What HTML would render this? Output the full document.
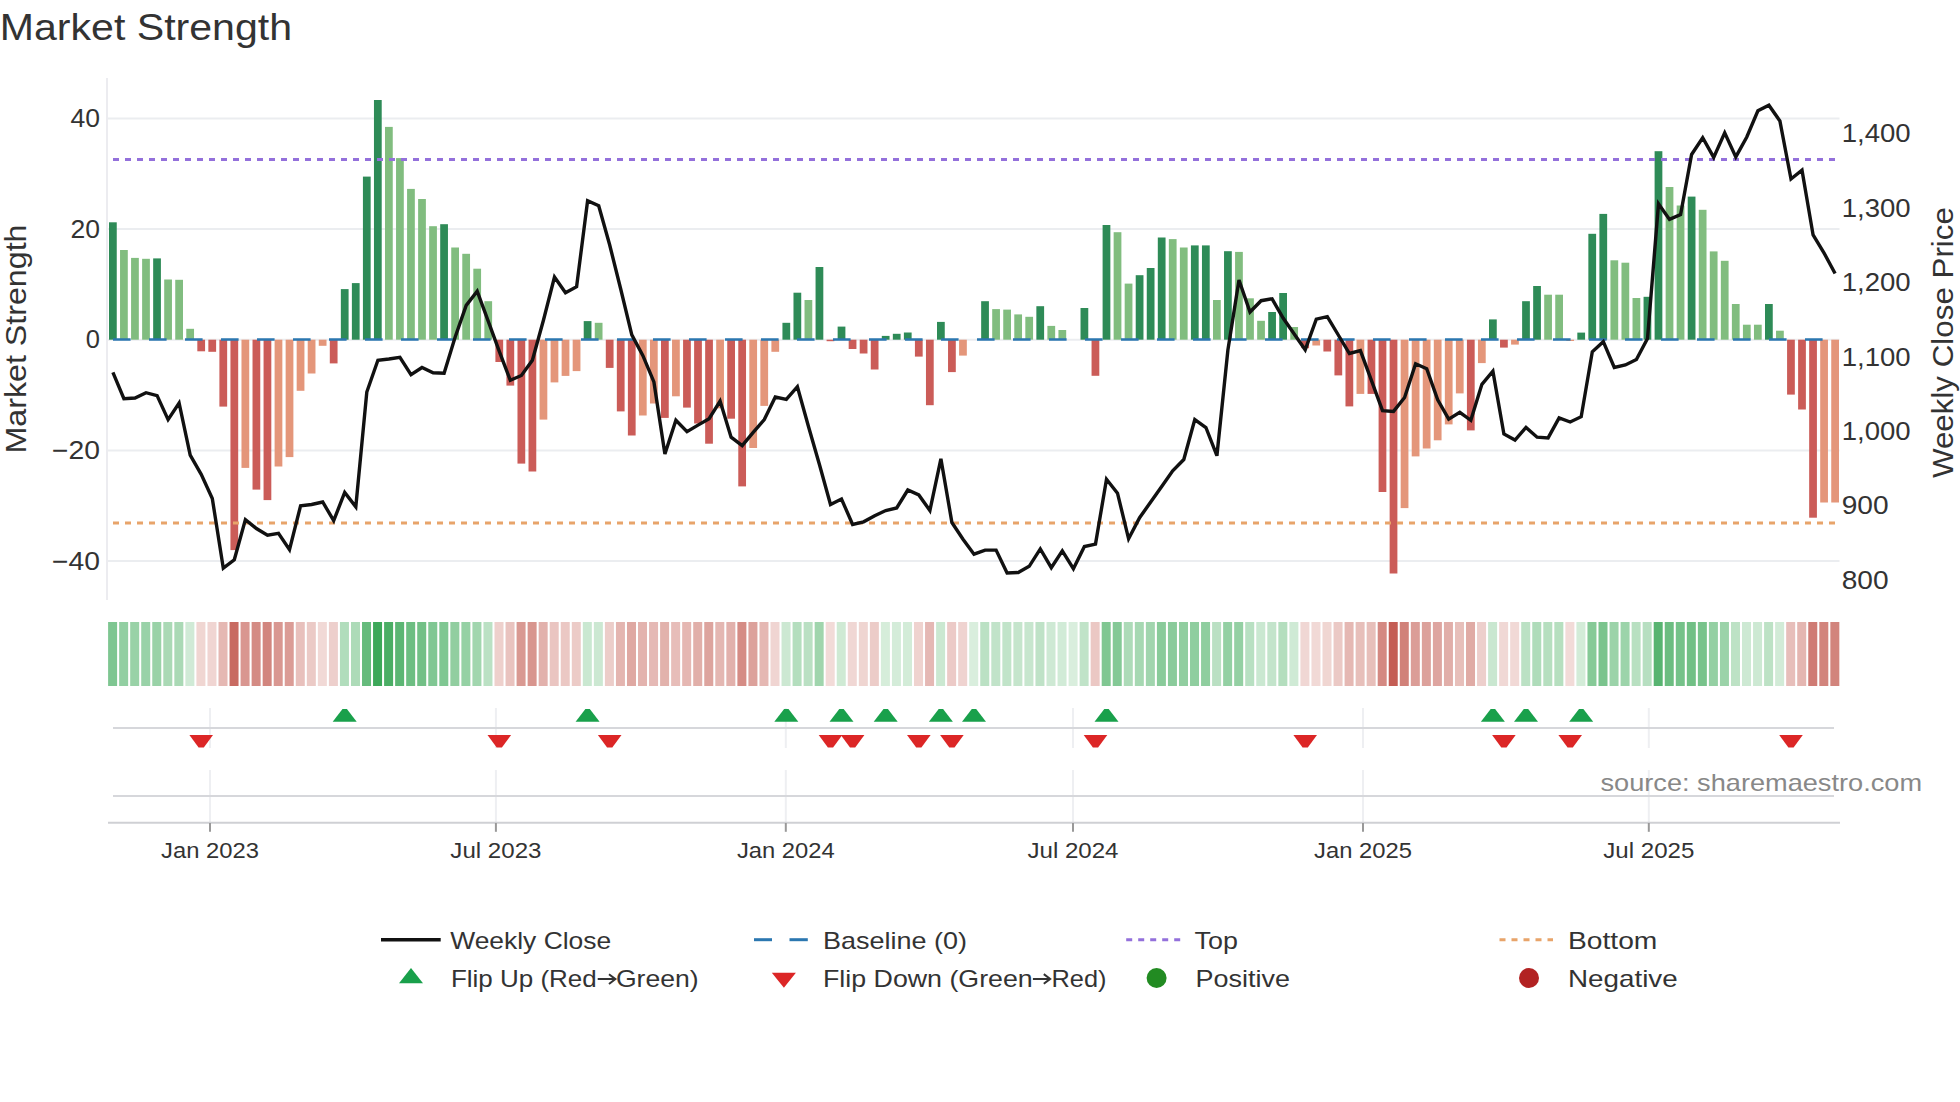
<!DOCTYPE html>
<html><head><meta charset="utf-8"><title>Market Strength</title>
<style>html,body{margin:0;padding:0;background:#fff;width:1960px;height:1102px;overflow:hidden}</style>
</head><body>
<svg width="1960" height="1102" viewBox="0 0 1960 1102" style="display:block">
<rect width="1960" height="1102" fill="#fff"/>
<g font-family='"Liberation Sans", sans-serif'>
<text x="-0.3" y="40.1" font-size="36" fill="#333" text-anchor="start" textLength="292.4" lengthAdjust="spacingAndGlyphs">Market Strength</text>
<line x1="108" y1="118.4" x2="1839.5" y2="118.4" stroke="#ebedf0" stroke-width="2"/>
<line x1="108" y1="229.0" x2="1839.5" y2="229.0" stroke="#ebedf0" stroke-width="2"/>
<line x1="108" y1="450.4" x2="1839.5" y2="450.4" stroke="#ebedf0" stroke-width="2"/>
<line x1="108" y1="561.0" x2="1839.5" y2="561.0" stroke="#ebedf0" stroke-width="2"/>
<line x1="108" y1="339.7" x2="1839.5" y2="339.7" stroke="#ebedf0" stroke-width="2"/>
<line x1="107" y1="78" x2="107" y2="600" stroke="#ececf0" stroke-width="2"/>
<text x="100" y="127.0" font-size="25.5" fill="#333" text-anchor="end" textLength="29.5" lengthAdjust="spacingAndGlyphs">40</text>
<text x="100" y="237.6" font-size="25.5" fill="#333" text-anchor="end" textLength="29.5" lengthAdjust="spacingAndGlyphs">20</text>
<text x="100" y="348.3" font-size="25.5" fill="#333" text-anchor="end">0</text>
<text x="100" y="459.0" font-size="25.5" fill="#333" text-anchor="end" textLength="48" lengthAdjust="spacingAndGlyphs">−20</text>
<text x="100" y="569.6" font-size="25.5" fill="#333" text-anchor="end" textLength="48" lengthAdjust="spacingAndGlyphs">−40</text>
<text x="1841.7" y="142.0" font-size="25" fill="#333" text-anchor="start" textLength="69.0" lengthAdjust="spacingAndGlyphs">1,400</text>
<text x="1841.7" y="216.5" font-size="25" fill="#333" text-anchor="start" textLength="69.0" lengthAdjust="spacingAndGlyphs">1,300</text>
<text x="1841.7" y="291.0" font-size="25" fill="#333" text-anchor="start" textLength="69.0" lengthAdjust="spacingAndGlyphs">1,200</text>
<text x="1841.7" y="365.5" font-size="25" fill="#333" text-anchor="start" textLength="69.0" lengthAdjust="spacingAndGlyphs">1,100</text>
<text x="1841.7" y="439.9" font-size="25" fill="#333" text-anchor="start" textLength="69.0" lengthAdjust="spacingAndGlyphs">1,000</text>
<text x="1841.7" y="514.4" font-size="25" fill="#333" text-anchor="start" textLength="46.9" lengthAdjust="spacingAndGlyphs">900</text>
<text x="1841.7" y="588.9" font-size="25" fill="#333" text-anchor="start" textLength="46.9" lengthAdjust="spacingAndGlyphs">800</text>
<text transform="translate(26,339) rotate(-90)" font-size="29.5" fill="#333" text-anchor="middle" textLength="229" lengthAdjust="spacingAndGlyphs">Market Strength</text>
<text transform="translate(1953.4,342.6) rotate(-90)" font-size="29.5" fill="#333" text-anchor="middle" textLength="271" lengthAdjust="spacingAndGlyphs">Weekly Close Price</text>
<rect x="109.00" y="222.30" width="7.75" height="117.40" fill="#2e8b57"/>
<rect x="120.04" y="250.00" width="7.75" height="89.70" fill="#81bd7f"/>
<rect x="131.08" y="257.90" width="7.75" height="81.80" fill="#81bd7f"/>
<rect x="142.12" y="258.80" width="7.75" height="80.90" fill="#81bd7f"/>
<rect x="153.16" y="258.40" width="7.75" height="81.30" fill="#2e8b57"/>
<rect x="164.20" y="279.50" width="7.75" height="60.20" fill="#81bd7f"/>
<rect x="175.24" y="279.80" width="7.75" height="59.90" fill="#81bd7f"/>
<rect x="186.28" y="328.80" width="7.75" height="10.90" fill="#81bd7f"/>
<rect x="197.32" y="339.70" width="7.75" height="11.60" fill="#cb5c58"/>
<rect x="208.36" y="339.70" width="7.75" height="12.10" fill="#cb5c58"/>
<rect x="219.40" y="339.70" width="7.75" height="66.90" fill="#cb5c58"/>
<rect x="230.44" y="339.70" width="7.75" height="210.40" fill="#cb5c58"/>
<rect x="241.48" y="339.70" width="7.75" height="128.20" fill="#e4967a"/>
<rect x="252.52" y="339.70" width="7.75" height="149.90" fill="#cb5c58"/>
<rect x="263.56" y="339.70" width="7.75" height="160.40" fill="#cb5c58"/>
<rect x="274.60" y="339.70" width="7.75" height="126.80" fill="#e4967a"/>
<rect x="285.64" y="339.70" width="7.75" height="117.40" fill="#e4967a"/>
<rect x="296.68" y="339.70" width="7.75" height="51.10" fill="#e4967a"/>
<rect x="307.72" y="339.70" width="7.75" height="33.80" fill="#e4967a"/>
<rect x="318.76" y="339.70" width="7.75" height="6.10" fill="#e4967a"/>
<rect x="329.80" y="339.70" width="7.75" height="23.70" fill="#cb5c58"/>
<rect x="340.84" y="289.10" width="7.75" height="50.60" fill="#2e8b57"/>
<rect x="351.88" y="283.10" width="7.75" height="56.60" fill="#2e8b57"/>
<rect x="362.92" y="176.60" width="7.75" height="163.10" fill="#2e8b57"/>
<rect x="373.96" y="100.00" width="7.75" height="239.70" fill="#2e8b57"/>
<rect x="385.00" y="126.90" width="7.75" height="212.80" fill="#81bd7f"/>
<rect x="396.04" y="158.10" width="7.75" height="181.60" fill="#81bd7f"/>
<rect x="407.08" y="188.90" width="7.75" height="150.80" fill="#81bd7f"/>
<rect x="418.12" y="199.00" width="7.75" height="140.70" fill="#81bd7f"/>
<rect x="429.16" y="226.20" width="7.75" height="113.50" fill="#81bd7f"/>
<rect x="440.20" y="224.20" width="7.75" height="115.50" fill="#2e8b57"/>
<rect x="451.24" y="247.50" width="7.75" height="92.20" fill="#81bd7f"/>
<rect x="462.28" y="253.80" width="7.75" height="85.90" fill="#81bd7f"/>
<rect x="473.32" y="268.70" width="7.75" height="71.00" fill="#81bd7f"/>
<rect x="484.36" y="301.20" width="7.75" height="38.50" fill="#81bd7f"/>
<rect x="495.40" y="339.70" width="7.75" height="22.30" fill="#cb5c58"/>
<rect x="506.44" y="339.70" width="7.75" height="45.90" fill="#cb5c58"/>
<rect x="517.48" y="339.70" width="7.75" height="123.90" fill="#cb5c58"/>
<rect x="528.52" y="339.70" width="7.75" height="131.80" fill="#cb5c58"/>
<rect x="539.56" y="339.70" width="7.75" height="79.90" fill="#e4967a"/>
<rect x="550.60" y="339.70" width="7.75" height="42.70" fill="#e4967a"/>
<rect x="561.64" y="339.70" width="7.75" height="36.20" fill="#e4967a"/>
<rect x="572.68" y="339.70" width="7.75" height="31.40" fill="#e4967a"/>
<rect x="583.72" y="321.10" width="7.75" height="18.60" fill="#2e8b57"/>
<rect x="594.76" y="322.80" width="7.75" height="16.90" fill="#81bd7f"/>
<rect x="605.80" y="339.70" width="7.75" height="28.20" fill="#cb5c58"/>
<rect x="616.84" y="339.70" width="7.75" height="71.70" fill="#cb5c58"/>
<rect x="627.88" y="339.70" width="7.75" height="95.80" fill="#cb5c58"/>
<rect x="638.92" y="339.70" width="7.75" height="75.80" fill="#e4967a"/>
<rect x="649.96" y="339.70" width="7.75" height="63.80" fill="#e4967a"/>
<rect x="661.00" y="339.70" width="7.75" height="78.20" fill="#cb5c58"/>
<rect x="672.04" y="339.70" width="7.75" height="56.60" fill="#e4967a"/>
<rect x="683.08" y="339.70" width="7.75" height="67.90" fill="#cb5c58"/>
<rect x="694.12" y="339.70" width="7.75" height="83.80" fill="#cb5c58"/>
<rect x="705.16" y="339.70" width="7.75" height="104.00" fill="#cb5c58"/>
<rect x="716.20" y="339.70" width="7.75" height="68.60" fill="#e4967a"/>
<rect x="727.24" y="339.70" width="7.75" height="79.00" fill="#cb5c58"/>
<rect x="738.28" y="339.70" width="7.75" height="146.70" fill="#cb5c58"/>
<rect x="749.32" y="339.70" width="7.75" height="108.30" fill="#e4967a"/>
<rect x="760.36" y="339.70" width="7.75" height="66.20" fill="#e4967a"/>
<rect x="771.40" y="339.70" width="7.75" height="12.10" fill="#e4967a"/>
<rect x="782.44" y="322.80" width="7.75" height="16.90" fill="#2e8b57"/>
<rect x="793.48" y="292.70" width="7.75" height="47.00" fill="#2e8b57"/>
<rect x="804.52" y="300.00" width="7.75" height="39.70" fill="#81bd7f"/>
<rect x="815.56" y="267.00" width="7.75" height="72.70" fill="#2e8b57"/>
<rect x="826.60" y="339.70" width="7.75" height="1.50" fill="#cb5c58"/>
<rect x="837.64" y="326.60" width="7.75" height="13.10" fill="#2e8b57"/>
<rect x="848.68" y="339.70" width="7.75" height="9.30" fill="#cb5c58"/>
<rect x="859.72" y="339.70" width="7.75" height="13.80" fill="#cb5c58"/>
<rect x="870.76" y="339.70" width="7.75" height="29.80" fill="#cb5c58"/>
<rect x="881.80" y="335.90" width="7.75" height="3.80" fill="#2e8b57"/>
<rect x="892.84" y="333.80" width="7.75" height="5.90" fill="#2e8b57"/>
<rect x="903.88" y="332.50" width="7.75" height="7.20" fill="#2e8b57"/>
<rect x="914.92" y="339.70" width="7.75" height="16.90" fill="#cb5c58"/>
<rect x="925.96" y="339.70" width="7.75" height="65.50" fill="#cb5c58"/>
<rect x="937.00" y="321.90" width="7.75" height="17.80" fill="#2e8b57"/>
<rect x="948.04" y="339.70" width="7.75" height="32.40" fill="#cb5c58"/>
<rect x="959.08" y="339.70" width="7.75" height="15.90" fill="#e4967a"/>
<rect x="981.16" y="301.20" width="7.75" height="38.50" fill="#2e8b57"/>
<rect x="992.20" y="309.10" width="7.75" height="30.60" fill="#81bd7f"/>
<rect x="1003.24" y="309.60" width="7.75" height="30.10" fill="#81bd7f"/>
<rect x="1014.28" y="314.40" width="7.75" height="25.30" fill="#81bd7f"/>
<rect x="1025.32" y="316.80" width="7.75" height="22.90" fill="#81bd7f"/>
<rect x="1036.36" y="306.20" width="7.75" height="33.50" fill="#2e8b57"/>
<rect x="1047.40" y="325.90" width="7.75" height="13.80" fill="#81bd7f"/>
<rect x="1058.44" y="330.00" width="7.75" height="9.70" fill="#81bd7f"/>
<rect x="1080.52" y="308.00" width="7.75" height="31.70" fill="#2e8b57"/>
<rect x="1091.56" y="339.70" width="7.75" height="36.10" fill="#cb5c58"/>
<rect x="1102.60" y="225.00" width="7.75" height="114.70" fill="#2e8b57"/>
<rect x="1113.64" y="232.20" width="7.75" height="107.50" fill="#81bd7f"/>
<rect x="1124.68" y="283.60" width="7.75" height="56.10" fill="#81bd7f"/>
<rect x="1135.72" y="275.20" width="7.75" height="64.50" fill="#2e8b57"/>
<rect x="1146.76" y="268.00" width="7.75" height="71.70" fill="#2e8b57"/>
<rect x="1157.80" y="237.50" width="7.75" height="102.20" fill="#2e8b57"/>
<rect x="1168.84" y="239.10" width="7.75" height="100.60" fill="#81bd7f"/>
<rect x="1179.88" y="247.50" width="7.75" height="92.20" fill="#81bd7f"/>
<rect x="1190.92" y="245.40" width="7.75" height="94.30" fill="#2e8b57"/>
<rect x="1201.96" y="245.40" width="7.75" height="94.30" fill="#2e8b57"/>
<rect x="1213.00" y="300.00" width="7.75" height="39.70" fill="#81bd7f"/>
<rect x="1224.04" y="251.20" width="7.75" height="88.50" fill="#2e8b57"/>
<rect x="1235.08" y="251.90" width="7.75" height="87.80" fill="#81bd7f"/>
<rect x="1246.12" y="298.30" width="7.75" height="41.40" fill="#81bd7f"/>
<rect x="1257.16" y="320.80" width="7.75" height="18.90" fill="#81bd7f"/>
<rect x="1268.20" y="312.00" width="7.75" height="27.70" fill="#2e8b57"/>
<rect x="1279.24" y="293.00" width="7.75" height="46.70" fill="#2e8b57"/>
<rect x="1290.28" y="327.00" width="7.75" height="12.70" fill="#81bd7f"/>
<rect x="1301.32" y="339.70" width="7.75" height="8.50" fill="#cb5c58"/>
<rect x="1312.36" y="339.70" width="7.75" height="5.80" fill="#e4967a"/>
<rect x="1323.40" y="339.70" width="7.75" height="11.80" fill="#cb5c58"/>
<rect x="1334.44" y="339.70" width="7.75" height="35.70" fill="#cb5c58"/>
<rect x="1345.48" y="339.70" width="7.75" height="66.70" fill="#cb5c58"/>
<rect x="1356.52" y="339.70" width="7.75" height="54.20" fill="#e4967a"/>
<rect x="1367.56" y="339.70" width="7.75" height="54.20" fill="#cb5c58"/>
<rect x="1378.60" y="339.70" width="7.75" height="152.30" fill="#cb5c58"/>
<rect x="1389.64" y="339.70" width="7.75" height="233.80" fill="#cb5c58"/>
<rect x="1400.68" y="339.70" width="7.75" height="168.40" fill="#e4967a"/>
<rect x="1411.72" y="339.70" width="7.75" height="116.70" fill="#e4967a"/>
<rect x="1422.76" y="339.70" width="7.75" height="108.80" fill="#e4967a"/>
<rect x="1433.80" y="339.70" width="7.75" height="100.60" fill="#e4967a"/>
<rect x="1444.84" y="339.70" width="7.75" height="84.70" fill="#e4967a"/>
<rect x="1455.88" y="339.70" width="7.75" height="53.70" fill="#e4967a"/>
<rect x="1466.92" y="339.70" width="7.75" height="90.70" fill="#cb5c58"/>
<rect x="1477.96" y="339.70" width="7.75" height="23.40" fill="#e4967a"/>
<rect x="1489.00" y="319.40" width="7.75" height="20.30" fill="#2e8b57"/>
<rect x="1500.04" y="339.70" width="7.75" height="7.90" fill="#cb5c58"/>
<rect x="1511.08" y="339.70" width="7.75" height="4.90" fill="#e4967a"/>
<rect x="1522.12" y="301.20" width="7.75" height="38.50" fill="#2e8b57"/>
<rect x="1533.16" y="286.00" width="7.75" height="53.70" fill="#2e8b57"/>
<rect x="1544.20" y="294.70" width="7.75" height="45.00" fill="#81bd7f"/>
<rect x="1555.24" y="294.70" width="7.75" height="45.00" fill="#81bd7f"/>
<rect x="1566.28" y="339.70" width="7.75" height="1.30" fill="#e4967a"/>
<rect x="1577.32" y="332.60" width="7.75" height="7.10" fill="#2e8b57"/>
<rect x="1588.36" y="233.80" width="7.75" height="105.90" fill="#2e8b57"/>
<rect x="1599.40" y="213.90" width="7.75" height="125.80" fill="#2e8b57"/>
<rect x="1610.44" y="260.30" width="7.75" height="79.40" fill="#81bd7f"/>
<rect x="1621.48" y="262.70" width="7.75" height="77.00" fill="#81bd7f"/>
<rect x="1632.52" y="298.00" width="7.75" height="41.70" fill="#81bd7f"/>
<rect x="1643.56" y="296.80" width="7.75" height="42.90" fill="#2e8b57"/>
<rect x="1654.60" y="151.20" width="7.75" height="188.50" fill="#2e8b57"/>
<rect x="1665.64" y="187.00" width="7.75" height="152.70" fill="#81bd7f"/>
<rect x="1676.68" y="205.50" width="7.75" height="134.20" fill="#81bd7f"/>
<rect x="1687.72" y="196.60" width="7.75" height="143.10" fill="#2e8b57"/>
<rect x="1698.76" y="209.80" width="7.75" height="129.90" fill="#81bd7f"/>
<rect x="1709.80" y="251.40" width="7.75" height="88.30" fill="#81bd7f"/>
<rect x="1720.84" y="260.80" width="7.75" height="78.90" fill="#81bd7f"/>
<rect x="1731.88" y="304.00" width="7.75" height="35.70" fill="#81bd7f"/>
<rect x="1742.92" y="324.70" width="7.75" height="15.00" fill="#81bd7f"/>
<rect x="1753.96" y="324.70" width="7.75" height="15.00" fill="#81bd7f"/>
<rect x="1765.00" y="304.00" width="7.75" height="35.70" fill="#2e8b57"/>
<rect x="1776.04" y="330.70" width="7.75" height="9.00" fill="#81bd7f"/>
<rect x="1787.08" y="339.70" width="7.75" height="54.90" fill="#cb5c58"/>
<rect x="1798.12" y="339.70" width="7.75" height="69.80" fill="#cb5c58"/>
<rect x="1809.16" y="339.70" width="7.75" height="178.00" fill="#cb5c58"/>
<rect x="1820.20" y="339.70" width="7.75" height="162.80" fill="#e4967a"/>
<rect x="1831.24" y="339.70" width="7.75" height="162.80" fill="#e4967a"/>
<line x1="113" y1="339.5" x2="1823" y2="339.5" stroke="#2b77b0" stroke-width="2.6" stroke-dasharray="17.6 18.4"/>
<line x1="113" y1="159.6" x2="1835" y2="159.6" stroke="#9370db" stroke-width="3" stroke-dasharray="6 6"/>
<line x1="113" y1="523" x2="1835" y2="523" stroke="#e8a46a" stroke-width="3" stroke-dasharray="6 6"/>
<polyline points="112.9,372.3 123.9,398.7 135.0,398.0 146.0,392.7 157.1,395.6 168.1,419.6 179.1,403.0 190.2,455.2 201.2,474.4 212.3,498.5 223.3,568.2 234.3,559.8 245.4,519.6 256.4,528.5 267.5,535.2 278.5,533.3 289.5,549.7 300.6,505.7 311.6,504.5 322.7,502.0 333.7,520.6 344.7,492.5 355.8,506.9 366.8,392.0 377.9,360.2 388.9,359.0 399.9,357.4 411.0,374.7 422.0,367.5 433.1,372.7 444.1,373.2 455.1,337.2 466.2,305.4 477.2,291.2 488.3,321.3 499.3,351.4 510.3,380.3 521.4,375.5 532.4,360.2 543.5,320.0 554.5,277.1 565.5,292.7 576.6,286.7 587.6,200.7 598.7,205.7 609.7,245.0 620.7,289.0 631.8,334.8 642.8,355.4 653.9,381.9 664.9,454.0 675.9,420.3 687.0,431.6 698.0,425.1 709.1,418.7 720.1,401.1 731.1,437.2 742.2,445.6 753.2,432.4 764.3,419.6 775.3,397.0 786.3,399.4 797.4,386.7 808.4,426.3 819.5,464.8 830.5,504.5 841.5,499.0 852.6,524.4 863.6,521.8 874.7,515.8 885.7,510.5 896.7,508.0 907.8,490.0 918.8,494.9 929.9,510.5 940.9,458.8 951.9,522.5 963.0,539.3 974.0,554.2 985.1,550.1 996.1,550.1 1007.1,573.0 1018.2,572.5 1029.2,566.3 1040.3,548.9 1051.3,567.7 1062.3,550.9 1073.4,568.7 1084.4,546.5 1095.5,544.1 1106.5,479.2 1117.5,493.2 1128.6,538.8 1139.6,517.7 1150.7,502.0 1161.7,486.4 1172.7,470.8 1183.8,459.5 1194.8,419.6 1205.9,427.5 1216.9,455.7 1227.9,350.0 1239.0,280.0 1250.0,312.0 1261.1,300.7 1272.1,298.8 1283.1,318.0 1294.2,334.0 1305.2,349.8 1316.3,319.1 1327.3,316.6 1338.3,335.0 1349.4,353.5 1360.4,350.6 1371.5,380.7 1382.5,410.7 1393.5,411.4 1404.6,397.5 1415.6,363.8 1426.7,368.7 1437.7,399.9 1448.7,419.1 1459.8,412.4 1470.8,420.3 1481.9,384.3 1492.9,371.1 1503.9,434.0 1515.0,440.0 1526.0,427.5 1537.1,437.2 1548.1,437.9 1559.1,417.9 1570.2,422.0 1581.2,416.7 1592.3,351.8 1603.3,341.7 1614.3,367.5 1625.4,365.0 1636.4,359.5 1647.5,338.6 1658.5,203.8 1669.5,219.4 1680.6,214.6 1691.6,154.5 1702.7,137.7 1713.7,157.4 1724.7,132.9 1735.8,156.9 1746.8,137.0 1757.9,110.8 1768.9,105.2 1779.9,120.9 1791.0,179.0 1802.0,170.1 1813.1,235.0 1824.1,253.1 1835.1,273.5" fill="none" stroke="#111" stroke-width="3.4" stroke-linejoin="miter" stroke-miterlimit="4"/>
<rect x="108.10" y="622" width="9" height="64" fill="#7ec691"/>
<rect x="119.14" y="622" width="9" height="64" fill="#92cfa2"/>
<rect x="130.18" y="622" width="9" height="64" fill="#99d2a7"/>
<rect x="141.22" y="622" width="9" height="64" fill="#99d2a8"/>
<rect x="152.26" y="622" width="9" height="64" fill="#99d2a7"/>
<rect x="163.30" y="622" width="9" height="64" fill="#aad9b5"/>
<rect x="174.34" y="622" width="9" height="64" fill="#aad9b5"/>
<rect x="185.38" y="622" width="9" height="64" fill="#d0ead6"/>
<rect x="196.42" y="622" width="9" height="64" fill="#f0d6d2"/>
<rect x="207.46" y="622" width="9" height="64" fill="#f0d5d2"/>
<rect x="218.50" y="622" width="9" height="64" fill="#e5b8b3"/>
<rect x="229.54" y="622" width="9" height="64" fill="#c86a61"/>
<rect x="240.58" y="622" width="9" height="64" fill="#d99690"/>
<rect x="251.62" y="622" width="9" height="64" fill="#d48b84"/>
<rect x="262.66" y="622" width="9" height="64" fill="#d2857e"/>
<rect x="273.70" y="622" width="9" height="64" fill="#d99791"/>
<rect x="284.74" y="622" width="9" height="64" fill="#db9c96"/>
<rect x="295.78" y="622" width="9" height="64" fill="#e8c0bc"/>
<rect x="306.82" y="622" width="9" height="64" fill="#ebcac6"/>
<rect x="317.86" y="622" width="9" height="64" fill="#f1d9d6"/>
<rect x="328.90" y="622" width="9" height="64" fill="#edcfcc"/>
<rect x="339.94" y="622" width="9" height="64" fill="#b1ddbc"/>
<rect x="350.98" y="622" width="9" height="64" fill="#addbb8"/>
<rect x="362.02" y="622" width="9" height="64" fill="#66bb7c"/>
<rect x="373.06" y="622" width="9" height="64" fill="#3da859"/>
<rect x="384.10" y="622" width="9" height="64" fill="#4bae65"/>
<rect x="395.14" y="622" width="9" height="64" fill="#5cb674"/>
<rect x="406.18" y="622" width="9" height="64" fill="#6dbe82"/>
<rect x="417.22" y="622" width="9" height="64" fill="#72c086"/>
<rect x="428.26" y="622" width="9" height="64" fill="#80c793"/>
<rect x="439.30" y="622" width="9" height="64" fill="#7fc792"/>
<rect x="450.34" y="622" width="9" height="64" fill="#91cea0"/>
<rect x="461.38" y="622" width="9" height="64" fill="#95d1a4"/>
<rect x="472.42" y="622" width="9" height="64" fill="#a1d6ae"/>
<rect x="483.46" y="622" width="9" height="64" fill="#bbe1c4"/>
<rect x="494.50" y="622" width="9" height="64" fill="#eed0cc"/>
<rect x="505.54" y="622" width="9" height="64" fill="#e9c3bf"/>
<rect x="516.58" y="622" width="9" height="64" fill="#d99992"/>
<rect x="527.62" y="622" width="9" height="64" fill="#d8958e"/>
<rect x="538.66" y="622" width="9" height="64" fill="#e2b1ac"/>
<rect x="549.70" y="622" width="9" height="64" fill="#eac5c1"/>
<rect x="560.74" y="622" width="9" height="64" fill="#ebc8c4"/>
<rect x="571.78" y="622" width="9" height="64" fill="#eccbc7"/>
<rect x="582.82" y="622" width="9" height="64" fill="#cae8d1"/>
<rect x="593.86" y="622" width="9" height="64" fill="#cce8d2"/>
<rect x="604.90" y="622" width="9" height="64" fill="#eccdc9"/>
<rect x="615.94" y="622" width="9" height="64" fill="#e4b5b0"/>
<rect x="626.98" y="622" width="9" height="64" fill="#dfa8a2"/>
<rect x="638.02" y="622" width="9" height="64" fill="#e3b3ae"/>
<rect x="649.06" y="622" width="9" height="64" fill="#e5b9b5"/>
<rect x="660.10" y="622" width="9" height="64" fill="#e2b2ac"/>
<rect x="671.14" y="622" width="9" height="64" fill="#e7bdb9"/>
<rect x="682.18" y="622" width="9" height="64" fill="#e5b7b2"/>
<rect x="693.22" y="622" width="9" height="64" fill="#e1afa9"/>
<rect x="704.26" y="622" width="9" height="64" fill="#dda49e"/>
<rect x="715.30" y="622" width="9" height="64" fill="#e4b7b2"/>
<rect x="726.34" y="622" width="9" height="64" fill="#e2b1ac"/>
<rect x="737.38" y="622" width="9" height="64" fill="#d58c85"/>
<rect x="748.42" y="622" width="9" height="64" fill="#dca19b"/>
<rect x="759.46" y="622" width="9" height="64" fill="#e5b8b3"/>
<rect x="770.50" y="622" width="9" height="64" fill="#f0d5d2"/>
<rect x="781.54" y="622" width="9" height="64" fill="#cce8d2"/>
<rect x="792.58" y="622" width="9" height="64" fill="#b4debe"/>
<rect x="803.62" y="622" width="9" height="64" fill="#bae0c3"/>
<rect x="814.66" y="622" width="9" height="64" fill="#a0d5ad"/>
<rect x="825.70" y="622" width="9" height="64" fill="#f2dbd8"/>
<rect x="836.74" y="622" width="9" height="64" fill="#cfead4"/>
<rect x="847.78" y="622" width="9" height="64" fill="#f0d7d4"/>
<rect x="858.82" y="622" width="9" height="64" fill="#efd5d1"/>
<rect x="869.86" y="622" width="9" height="64" fill="#ecccc8"/>
<rect x="880.90" y="622" width="9" height="64" fill="#d6edda"/>
<rect x="891.94" y="622" width="9" height="64" fill="#d4ecd9"/>
<rect x="902.98" y="622" width="9" height="64" fill="#d3ecd8"/>
<rect x="914.02" y="622" width="9" height="64" fill="#efd3cf"/>
<rect x="925.06" y="622" width="9" height="64" fill="#e5b8b4"/>
<rect x="936.10" y="622" width="9" height="64" fill="#cbe8d1"/>
<rect x="947.14" y="622" width="9" height="64" fill="#eccac7"/>
<rect x="958.18" y="622" width="9" height="64" fill="#efd3d0"/>
<rect x="969.22" y="622" width="9" height="64" fill="#d9eedd"/>
<rect x="980.26" y="622" width="9" height="64" fill="#bbe1c4"/>
<rect x="991.30" y="622" width="9" height="64" fill="#c1e3c9"/>
<rect x="1002.34" y="622" width="9" height="64" fill="#c1e4c9"/>
<rect x="1013.38" y="622" width="9" height="64" fill="#c5e5cc"/>
<rect x="1024.42" y="622" width="9" height="64" fill="#c7e6ce"/>
<rect x="1035.46" y="622" width="9" height="64" fill="#bfe2c7"/>
<rect x="1046.50" y="622" width="9" height="64" fill="#cee9d4"/>
<rect x="1057.54" y="622" width="9" height="64" fill="#d1ebd7"/>
<rect x="1068.58" y="622" width="9" height="64" fill="#d9eedd"/>
<rect x="1079.62" y="622" width="9" height="64" fill="#c0e3c8"/>
<rect x="1090.66" y="622" width="9" height="64" fill="#ebc8c4"/>
<rect x="1101.70" y="622" width="9" height="64" fill="#80c792"/>
<rect x="1112.74" y="622" width="9" height="64" fill="#84c996"/>
<rect x="1123.78" y="622" width="9" height="64" fill="#addbb8"/>
<rect x="1134.82" y="622" width="9" height="64" fill="#a6d8b2"/>
<rect x="1145.86" y="622" width="9" height="64" fill="#a1d5ae"/>
<rect x="1156.90" y="622" width="9" height="64" fill="#89cb9a"/>
<rect x="1167.94" y="622" width="9" height="64" fill="#8acb9b"/>
<rect x="1178.98" y="622" width="9" height="64" fill="#91cea0"/>
<rect x="1190.02" y="622" width="9" height="64" fill="#8fce9f"/>
<rect x="1201.06" y="622" width="9" height="64" fill="#8fce9f"/>
<rect x="1212.10" y="622" width="9" height="64" fill="#bae0c3"/>
<rect x="1223.14" y="622" width="9" height="64" fill="#93d0a3"/>
<rect x="1234.18" y="622" width="9" height="64" fill="#94d0a3"/>
<rect x="1245.22" y="622" width="9" height="64" fill="#b8e0c2"/>
<rect x="1256.26" y="622" width="9" height="64" fill="#cae8d1"/>
<rect x="1267.30" y="622" width="9" height="64" fill="#c3e4cb"/>
<rect x="1278.34" y="622" width="9" height="64" fill="#b4debe"/>
<rect x="1289.38" y="622" width="9" height="64" fill="#cfead5"/>
<rect x="1300.42" y="622" width="9" height="64" fill="#f0d7d4"/>
<rect x="1311.46" y="622" width="9" height="64" fill="#f1d9d6"/>
<rect x="1322.50" y="622" width="9" height="64" fill="#f0d6d2"/>
<rect x="1333.54" y="622" width="9" height="64" fill="#ebc9c5"/>
<rect x="1344.58" y="622" width="9" height="64" fill="#e5b8b3"/>
<rect x="1355.62" y="622" width="9" height="64" fill="#e7bfba"/>
<rect x="1366.66" y="622" width="9" height="64" fill="#e7bfba"/>
<rect x="1377.70" y="622" width="9" height="64" fill="#d48982"/>
<rect x="1388.74" y="622" width="9" height="64" fill="#c45d54"/>
<rect x="1399.78" y="622" width="9" height="64" fill="#d18179"/>
<rect x="1410.82" y="622" width="9" height="64" fill="#db9d97"/>
<rect x="1421.86" y="622" width="9" height="64" fill="#dca19b"/>
<rect x="1432.90" y="622" width="9" height="64" fill="#dea5a0"/>
<rect x="1443.94" y="622" width="9" height="64" fill="#e1aea9"/>
<rect x="1454.98" y="622" width="9" height="64" fill="#e7bfba"/>
<rect x="1466.02" y="622" width="9" height="64" fill="#e0aba5"/>
<rect x="1477.06" y="622" width="9" height="64" fill="#edcfcc"/>
<rect x="1488.10" y="622" width="9" height="64" fill="#c9e7d0"/>
<rect x="1499.14" y="622" width="9" height="64" fill="#f0d8d5"/>
<rect x="1510.18" y="622" width="9" height="64" fill="#f1d9d6"/>
<rect x="1521.22" y="622" width="9" height="64" fill="#bbe1c4"/>
<rect x="1532.26" y="622" width="9" height="64" fill="#afdcba"/>
<rect x="1543.30" y="622" width="9" height="64" fill="#b6dfbf"/>
<rect x="1554.34" y="622" width="9" height="64" fill="#b6dfbf"/>
<rect x="1565.38" y="622" width="9" height="64" fill="#f2dbd8"/>
<rect x="1576.42" y="622" width="9" height="64" fill="#d3ecd8"/>
<rect x="1587.46" y="622" width="9" height="64" fill="#86ca97"/>
<rect x="1598.50" y="622" width="9" height="64" fill="#7ac48d"/>
<rect x="1609.54" y="622" width="9" height="64" fill="#9bd3a9"/>
<rect x="1620.58" y="622" width="9" height="64" fill="#9cd4aa"/>
<rect x="1631.62" y="622" width="9" height="64" fill="#b8e0c1"/>
<rect x="1642.66" y="622" width="9" height="64" fill="#b7dfc1"/>
<rect x="1653.70" y="622" width="9" height="64" fill="#58b471"/>
<rect x="1664.74" y="622" width="9" height="64" fill="#6cbd81"/>
<rect x="1675.78" y="622" width="9" height="64" fill="#75c289"/>
<rect x="1686.82" y="622" width="9" height="64" fill="#71c085"/>
<rect x="1697.86" y="622" width="9" height="64" fill="#78c38b"/>
<rect x="1708.90" y="622" width="9" height="64" fill="#94d0a3"/>
<rect x="1719.94" y="622" width="9" height="64" fill="#9bd3a9"/>
<rect x="1730.98" y="622" width="9" height="64" fill="#bde2c5"/>
<rect x="1742.02" y="622" width="9" height="64" fill="#cde9d3"/>
<rect x="1753.06" y="622" width="9" height="64" fill="#cde9d3"/>
<rect x="1764.10" y="622" width="9" height="64" fill="#bde2c5"/>
<rect x="1775.14" y="622" width="9" height="64" fill="#d2ebd7"/>
<rect x="1786.18" y="622" width="9" height="64" fill="#e7beba"/>
<rect x="1797.22" y="622" width="9" height="64" fill="#e4b6b1"/>
<rect x="1808.26" y="622" width="9" height="64" fill="#cf7b74"/>
<rect x="1819.30" y="622" width="9" height="64" fill="#d2847c"/>
<rect x="1830.34" y="622" width="9" height="64" fill="#d2847c"/>
<line x1="210" y1="708" x2="210" y2="748" stroke="#eeeff2" stroke-width="2"/>
<line x1="210" y1="770" x2="210" y2="822" stroke="#eeeff2" stroke-width="2"/>
<line x1="495.9" y1="708" x2="495.9" y2="748" stroke="#eeeff2" stroke-width="2"/>
<line x1="495.9" y1="770" x2="495.9" y2="822" stroke="#eeeff2" stroke-width="2"/>
<line x1="785.8" y1="708" x2="785.8" y2="748" stroke="#eeeff2" stroke-width="2"/>
<line x1="785.8" y1="770" x2="785.8" y2="822" stroke="#eeeff2" stroke-width="2"/>
<line x1="1073" y1="708" x2="1073" y2="748" stroke="#eeeff2" stroke-width="2"/>
<line x1="1073" y1="770" x2="1073" y2="822" stroke="#eeeff2" stroke-width="2"/>
<line x1="1363" y1="708" x2="1363" y2="748" stroke="#eeeff2" stroke-width="2"/>
<line x1="1363" y1="770" x2="1363" y2="822" stroke="#eeeff2" stroke-width="2"/>
<line x1="1648.8" y1="708" x2="1648.8" y2="748" stroke="#eeeff2" stroke-width="2"/>
<line x1="1648.8" y1="770" x2="1648.8" y2="822" stroke="#eeeff2" stroke-width="2"/>
<line x1="113" y1="728" x2="1834" y2="728" stroke="#d6d7db" stroke-width="2"/>
<line x1="113" y1="796" x2="1834" y2="796" stroke="#d6d7db" stroke-width="2"/>
<line x1="108" y1="822.7" x2="1840" y2="822.7" stroke="#cfd0d4" stroke-width="2"/>
<line x1="210" y1="823" x2="210" y2="831.8" stroke="#999" stroke-width="2"/>
<line x1="495.9" y1="823" x2="495.9" y2="831.8" stroke="#999" stroke-width="2"/>
<line x1="785.8" y1="823" x2="785.8" y2="831.8" stroke="#999" stroke-width="2"/>
<line x1="1073" y1="823" x2="1073" y2="831.8" stroke="#999" stroke-width="2"/>
<line x1="1363" y1="823" x2="1363" y2="831.8" stroke="#999" stroke-width="2"/>
<line x1="1648.8" y1="823" x2="1648.8" y2="831.8" stroke="#999" stroke-width="2"/>
<polygon points="189.4,735.1 213.0,735.1 203.8,747.6 198.6,747.6" fill="#dc2626"/>
<polygon points="332.7,721.8 356.7,721.8 346.9,709 342.5,709" fill="#19a04b"/>
<polygon points="487.5,735.1 511.1,735.1 501.9,747.6 496.7,747.6" fill="#dc2626"/>
<polygon points="575.6,721.8 599.6,721.8 589.8,709 585.4,709" fill="#19a04b"/>
<polygon points="597.9,735.1 621.5,735.1 612.3,747.6 607.1,747.6" fill="#dc2626"/>
<polygon points="774.3,721.8 798.3,721.8 788.5,709 784.1,709" fill="#19a04b"/>
<polygon points="818.7,735.1 842.3,735.1 833.1,747.6 827.9,747.6" fill="#dc2626"/>
<polygon points="829.5,721.8 853.5,721.8 843.7,709 839.3,709" fill="#19a04b"/>
<polygon points="840.8,735.1 864.4,735.1 855.2,747.6 850.0,747.6" fill="#dc2626"/>
<polygon points="873.7,721.8 897.7,721.8 887.9,709 883.5,709" fill="#19a04b"/>
<polygon points="907.0,735.1 930.6,735.1 921.4,747.6 916.2,747.6" fill="#dc2626"/>
<polygon points="928.9,721.8 952.9,721.8 943.1,709 938.7,709" fill="#19a04b"/>
<polygon points="940.1,735.1 963.7,735.1 954.5,747.6 949.3,747.6" fill="#dc2626"/>
<polygon points="962.0,721.8 986.0,721.8 976.2,709 971.8,709" fill="#19a04b"/>
<polygon points="1083.7,735.1 1107.3,735.1 1098.1,747.6 1092.9,747.6" fill="#dc2626"/>
<polygon points="1094.5,721.8 1118.5,721.8 1108.7,709 1104.3,709" fill="#19a04b"/>
<polygon points="1293.4,735.1 1317.0,735.1 1307.8,747.6 1302.6,747.6" fill="#dc2626"/>
<polygon points="1480.9,721.8 1504.9,721.8 1495.1,709 1490.7,709" fill="#19a04b"/>
<polygon points="1492.1,735.1 1515.7,735.1 1506.5,747.6 1501.3,747.6" fill="#dc2626"/>
<polygon points="1514.0,721.8 1538.0,721.8 1528.2,709 1523.8,709" fill="#19a04b"/>
<polygon points="1558.4,735.1 1582.0,735.1 1572.8,747.6 1567.6,747.6" fill="#dc2626"/>
<polygon points="1569.2,721.8 1593.2,721.8 1583.4,709 1579.0,709" fill="#19a04b"/>
<polygon points="1779.2,735.1 1802.8,735.1 1793.6,747.6 1788.4,747.6" fill="#dc2626"/>
<text x="210" y="857.7" font-size="22.3" fill="#333" text-anchor="middle" textLength="97.8" lengthAdjust="spacingAndGlyphs">Jan 2023</text>
<text x="495.9" y="857.7" font-size="22.3" fill="#333" text-anchor="middle" textLength="91.1" lengthAdjust="spacingAndGlyphs">Jul 2023</text>
<text x="785.8" y="857.7" font-size="22.3" fill="#333" text-anchor="middle" textLength="97.8" lengthAdjust="spacingAndGlyphs">Jan 2024</text>
<text x="1073" y="857.7" font-size="22.3" fill="#333" text-anchor="middle" textLength="91.1" lengthAdjust="spacingAndGlyphs">Jul 2024</text>
<text x="1363" y="857.7" font-size="22.3" fill="#333" text-anchor="middle" textLength="97.8" lengthAdjust="spacingAndGlyphs">Jan 2025</text>
<text x="1648.8" y="857.7" font-size="22.3" fill="#333" text-anchor="middle" textLength="91.1" lengthAdjust="spacingAndGlyphs">Jul 2025</text>
<text x="1600.5" y="791.2" font-size="24" fill="#888" text-anchor="start" textLength="321.5" lengthAdjust="spacingAndGlyphs">source: sharemaestro.com</text>
<line x1="381" y1="939.7" x2="440.7" y2="939.7" stroke="#111" stroke-width="3.4"/>
<text x="450.2" y="948.6" font-size="24" fill="#333" text-anchor="start" textLength="161.0" lengthAdjust="spacingAndGlyphs">Weekly Close</text>
<line x1="754" y1="939.7" x2="772" y2="939.7" stroke="#2b77b0" stroke-width="3"/>
<line x1="789.5" y1="939.7" x2="807.8" y2="939.7" stroke="#2b77b0" stroke-width="3"/>
<text x="823.0" y="948.6" font-size="24" fill="#333" text-anchor="start" textLength="144.0" lengthAdjust="spacingAndGlyphs">Baseline (0)</text>
<line x1="1126.2" y1="939.7" x2="1181" y2="939.7" stroke="#9370db" stroke-width="3" stroke-dasharray="6 6"/>
<text x="1194.6" y="948.6" font-size="24" fill="#333" text-anchor="start" textLength="43.3" lengthAdjust="spacingAndGlyphs">Top</text>
<line x1="1499.5" y1="939.7" x2="1553" y2="939.7" stroke="#e8a46a" stroke-width="3" stroke-dasharray="6 6"/>
<text x="1568.0" y="948.6" font-size="24" fill="#333" text-anchor="start" textLength="89.3" lengthAdjust="spacingAndGlyphs">Bottom</text>
<polygon points="399,983.3 423,983.3 411,967.9" fill="#19a04b"/>
<text x="450.9" y="986.7" font-size="24" fill="#333" text-anchor="start" textLength="145.8" lengthAdjust="spacingAndGlyphs">Flip Up (Red</text>
<path d="M597.7,979.1 H614.5 M609,974.3 L615.4,979.1 L609,984" fill="none" stroke="#333" stroke-width="2"/>
<text x="615.9" y="986.7" font-size="24" fill="#333" text-anchor="start" textLength="82.7" lengthAdjust="spacingAndGlyphs">Green)</text>
<polygon points="771.8,972.7 795.9,972.7 783.9,987.8" fill="#dc2626"/>
<text x="823.0" y="986.7" font-size="24" fill="#333" text-anchor="start" textLength="209.7" lengthAdjust="spacingAndGlyphs">Flip Down (Green</text>
<path d="M1032.9,978.9 H1049.2 M1043.8,974.1 L1050.2,978.9 L1043.8,983.8" fill="none" stroke="#333" stroke-width="2"/>
<text x="1051.5" y="986.7" font-size="24" fill="#333" text-anchor="start" textLength="55.0" lengthAdjust="spacingAndGlyphs">Red)</text>
<circle cx="1156.6" cy="978" r="10" fill="#228b22"/>
<text x="1195.5" y="986.7" font-size="24" fill="#333" text-anchor="start" textLength="94.4" lengthAdjust="spacingAndGlyphs">Positive</text>
<circle cx="1529" cy="978" r="10" fill="#b22222"/>
<text x="1568.0" y="986.7" font-size="24" fill="#333" text-anchor="start" textLength="109.7" lengthAdjust="spacingAndGlyphs">Negative</text>
</g></svg>
</body></html>
